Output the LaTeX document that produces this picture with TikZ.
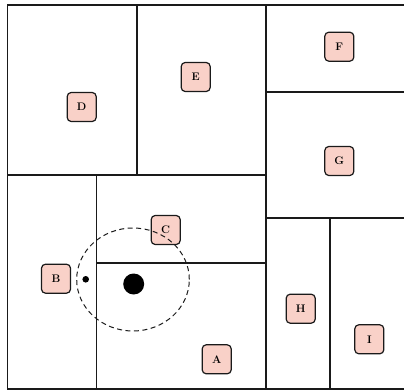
\documentclass[tikz,border=0pt]{standalone}
\usepackage{tikz}
\usetikzlibrary{positioning}
\definecolor{cellpink}{HTML}{F9D1C8}
\definecolor{ink}     {HTML}{1A1A1A}

\begin{document}
\begin{tikzpicture}[x=1pt,y=-1pt,
    wall/.style={draw=ink,line width=1.1pt},
    cell/.style={draw=ink,fill=cellpink,line width=1.2pt,rounded corners=4pt,
                 minimum size=29pt,inner sep=0pt,
                 font=\bfseries\fontsize{11}{13}\selectfont}]
  \useasboundingbox (0,0) rectangle (404,390);

  % frame and partitions
  \draw[wall] (7.5,5) rectangle (405,389);
  \draw[wall] (266,5) -- (266,389);
  \draw[wall] (7.5,175) -- (266,175);
  \draw[wall] (137,5) -- (137,175);
  \draw[wall] (266,92) -- (405,92);
  \draw[wall] (266,218) -- (405,218);
  \draw[wall] (330,218) -- (330,389);
  \draw[wall] (96.5,175) -- (96.5,389);
  \draw[wall] (96.5,263) -- (266,263);

  % regions
  \node[cell] (d) at (81.7,107)   {D};
  \node[cell] (e) at (195.7,77)   {E};
  \node[cell] (f) at (339.3,46.7) {F};
  \node[cell] (g) at (339.3,161)  {G};
  \node[cell] (c) at (165.7,230)  {C};
  \node[cell] (b) at (56,278.7)   {B};
  \node[cell] (h) at (300.7,308.7){H};
  \node[cell] (i) at (369.3,339.3){I};
  \node[cell] (a) at (216.7,359.3){A};

  % query point and search range
  \fill[black] (133.7,284) circle [radius=10.5pt];
  \fill[black] (85.7,279.3) circle [radius=3.3pt];
  \draw[ink,line width=1pt,dash pattern=on 5pt off 3.5pt]
    (133,279.5) ellipse [x radius=56.3pt,y radius=51.5pt];
\end{tikzpicture}
\end{document}
